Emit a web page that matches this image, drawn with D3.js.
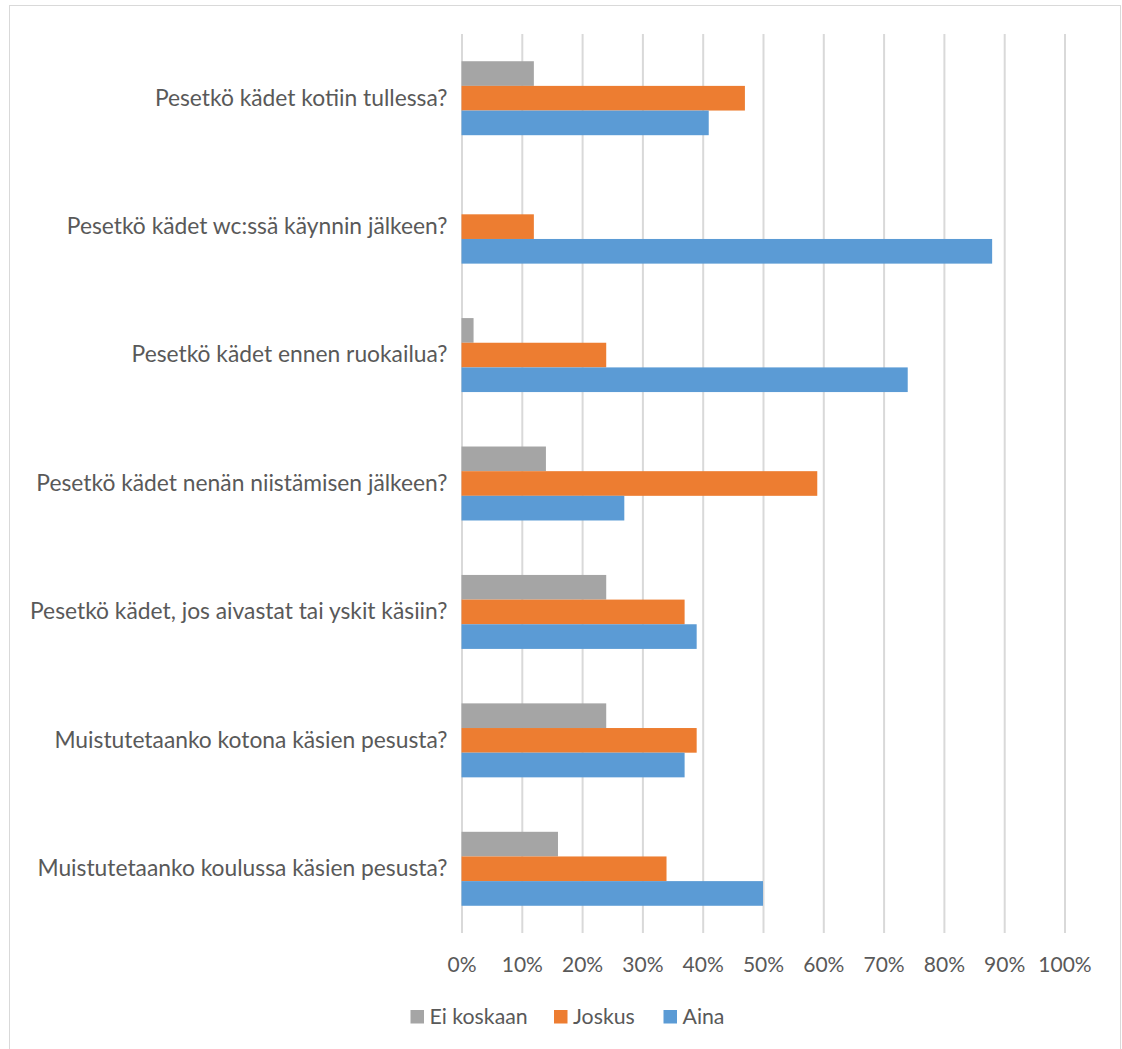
<!DOCTYPE html>
<html>
<head>
<meta charset="utf-8">
<script src="https://cdn.jsdelivr.net/npm/d3@7"></script>
<style>
  body { margin: 0; background: #fff; }
  text { font-family: Lato, "Open Sans", sans-serif; fill: #595959; }
</style>
</head>
<body>
<svg id="canvas"></svg>
<script>
let categories = [
  "Pesetkö kädet kotiin tullessa?",
  "Pesetkö kädet wc:ssä käynnin jälkeen?",
  "Pesetkö kädet ennen ruokailua?",
  "Pesetkö kädet nenän niistämisen jälkeen?",
  "Pesetkö kädet, jos aivastat tai yskit käsiin?",
  "Muistutetaanko kotona käsien pesusta?",
  "Muistutetaanko koulussa käsien pesusta?"
];
let seriesNames = ["Ei koskaan", "Joskus", "Aina"];
let eiKoskaan = [0.12, 0, 0.02, 0.14, 0.24, 0.24, 0.16];
let joskus = [0.47, 0.12, 0.24, 0.59, 0.37, 0.39, 0.34];
let aina = [0.41, 0.88, 0.74, 0.27, 0.39, 0.37, 0.50];
let colors = ["#a5a5a5", "#ed7d31", "#5b9bd5"];
let ticks = [0, 0.1, 0.2, 0.3, 0.4, 0.5, 0.6, 0.7, 0.8, 0.9, 1];

let width = 1122;
let height = 1049;
let plotLeft = 461.5;
let plotRight = 1064.5;
let plotTop = 34;
let plotBottom = 933;

let canvas = d3.select("#canvas").attr("width", width).attr("height", height);

// chart frame
canvas.append("rect")
  .attr("x", 9.5).attr("y", 5.5)
  .attr("width", 1111).attr("height", 1100)
  .attr("fill", "none").attr("stroke", "#d9d9d9").attr("stroke-width", 1);

let xScale = d3.scaleLinear().domain([0, 1]).range([plotLeft, plotRight]);
let yScale = d3.scaleBand().domain(categories).range([plotTop, plotBottom])
  .paddingInner(0.424).paddingOuter(0.212);
let subScale = d3.scaleBand().domain(seriesNames).range([0, yScale.bandwidth()]);

// gridlines
let grid = canvas.append("g")
  .attr("transform", "translate(0, " + plotBottom + ")")
  .call(d3.axisBottom(xScale).tickValues(ticks).tickSize(-(plotBottom - plotTop)).tickFormat(""));
grid.select(".domain").remove();
grid.selectAll("line").attr("stroke", "#d9d9d9").attr("stroke-width", 2);

// bars
let rows = [];
categories.forEach((c, i) => {
  [eiKoskaan, joskus, aina].forEach((arr, j) => {
    rows.push({ cat: c, series: seriesNames[j], value: arr[i], color: colors[j] });
  });
});

canvas.append("g").selectAll("rect")
  .data(rows)
  .enter()
  .append("rect")
  .attr("x", xScale(0))
  .attr("y", (d) => yScale(d.cat) + subScale(d.series))
  .attr("width", (d) => xScale(d.value) - xScale(0))
  .attr("height", subScale.bandwidth())
  .attr("fill", (d) => d.color);

// x axis labels
let xAxis = canvas.append("g")
  .attr("transform", "translate(0, " + (plotBottom + 24) + ")")
  .call(d3.axisBottom(xScale).tickValues(ticks).tickSize(0).tickFormat(d3.format(".0%")));
xAxis.select(".domain").remove();
xAxis.selectAll("text").style("font-size", "21px").attr("dy", "0.71em").attr("y", 0);

// category labels
let yAxis = canvas.append("g")
  .attr("transform", "translate(" + (plotLeft - 14) + ", 0)")
  .call(d3.axisLeft(yScale).tickSize(0).tickPadding(0));
yAxis.select(".domain").remove();
yAxis.selectAll("text").style("font-size", "22.8px");

// legend
let legendX = [410.5, 554, 663.5];
let legend = canvas.append("g");
seriesNames.forEach((name, i) => {
  legend.append("rect")
    .attr("x", legendX[i]).attr("y", 1010)
    .attr("width", 13.5).attr("height", 13.5)
    .attr("fill", colors[i]);
  legend.append("text")
    .attr("x", legendX[i] + 19).attr("y", 1017)
    .attr("dy", "0.35em")
    .style("font-size", "21.3px")
    .text(name);
});
</script>
</body>
</html>
